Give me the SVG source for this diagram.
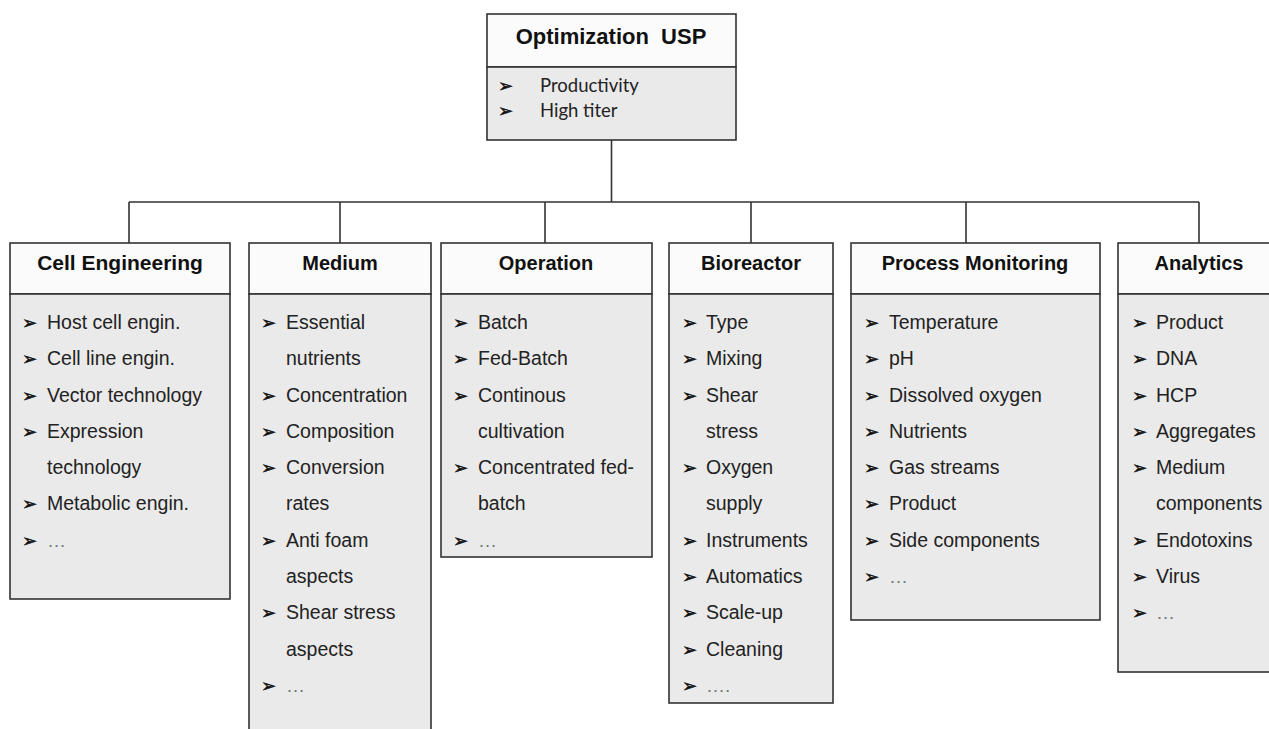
<svg xmlns="http://www.w3.org/2000/svg" width="1269" height="729" viewBox="0 0 1269 729">
<style>
.hd{fill:#fbfbfb;stroke:#333;stroke-width:1.6}
.bd{fill:#eaeaea;stroke:#333;stroke-width:1.6}
.ttl{font-family:"Liberation Sans",Arial,sans-serif;font-weight:bold;font-size:20px;fill:#111;text-anchor:middle}
.it{font-family:"Liberation Sans",Arial,sans-serif;font-size:19.5px;fill:#222}
.bl{font-family:"DejaVu Sans",sans-serif;font-size:18px;fill:#111;stroke:#111;stroke-width:0.5}
.dots{font-family:"Liberation Sans",Arial,sans-serif;font-size:19px;fill:#777}
.cal{font-family:Lato,"Open Sans",sans-serif;font-size:18.5px;fill:#222}
.cn{fill:none;stroke:#333;stroke-width:1.6}
</style>
<g id="connectors">
<path class="cn" d="M611.5 140 V202 M129 202 H1199 M129 202 V243 M340 202 V243 M545 202 V243 M751 202 V243 M966 202 V243 M1199 202 V243"/>
</g>
<g id="root">
<rect class="hd" x="487" y="14" width="249" height="53"/>
<rect class="bd" x="487" y="67" width="249" height="73"/>
<text class="ttl" x="611" y="44" style="font-size:22px" xml:space="preserve">Optimization  USP</text>
<text class="bl" x="498" y="92">➢</text><text class="cal" x="540" y="92">Productivity</text>
<text class="bl" x="498" y="117">➢</text><text class="cal" x="540" y="117">High titer</text>
</g>
<g id="cell-engineering">
<rect class="hd" x="10" y="243" width="220" height="51"/>
<rect class="bd" x="10" y="294" width="220" height="305"/>
<text class="ttl" x="120" y="270" style="font-size:21px">Cell Engineering</text>
<text class="bl" x="22" y="329">➢</text><text class="it" x="47" y="329">Host cell engin.</text>
<text class="bl" x="22" y="365">➢</text><text class="it" x="47" y="365">Cell line engin.</text>
<text class="bl" x="22" y="402">➢</text><text class="it" x="47" y="402">Vector technology</text>
<text class="bl" x="22" y="438">➢</text><text class="it" x="47" y="438">Expression</text>
<text class="it" x="47" y="474">technology</text>
<text class="bl" x="22" y="510">➢</text><text class="it" x="47" y="510">Metabolic  engin.</text>
<text class="bl" x="22" y="547">➢</text><text class="dots" x="47" y="547">…</text>
</g>
<g id="medium">
<rect class="hd" x="249" y="243" width="182" height="51"/>
<rect class="bd" x="249" y="294" width="182" height="450"/>
<text class="ttl" x="340" y="270">Medium</text>
<text class="bl" x="261" y="329">➢</text><text class="it" x="286" y="329">Essential</text>
<text class="it" x="286" y="365">nutrients</text>
<text class="bl" x="261" y="402">➢</text><text class="it" x="286" y="402">Concentration</text>
<text class="bl" x="261" y="438">➢</text><text class="it" x="286" y="438">Composition</text>
<text class="bl" x="261" y="474">➢</text><text class="it" x="286" y="474">Conversion</text>
<text class="it" x="286" y="510">rates</text>
<text class="bl" x="261" y="547">➢</text><text class="it" x="286" y="547">Anti foam</text>
<text class="it" x="286" y="583">aspects</text>
<text class="bl" x="261" y="619">➢</text><text class="it" x="286" y="619">Shear stress</text>
<text class="it" x="286" y="656">aspects</text>
<text class="bl" x="261" y="692">➢</text><text class="dots" x="286" y="692">…</text>
</g>
<g id="operation">
<rect class="hd" x="441" y="243" width="211" height="51"/>
<rect class="bd" x="441" y="294" width="211" height="263"/>
<text class="ttl" x="546" y="270">Operation</text>
<text class="bl" x="453" y="329">➢</text><text class="it" x="478" y="329">Batch</text>
<text class="bl" x="453" y="365">➢</text><text class="it" x="478" y="365">Fed-Batch</text>
<text class="bl" x="453" y="402">➢</text><text class="it" x="478" y="402">Continous</text>
<text class="it" x="478" y="438">cultivation</text>
<text class="bl" x="453" y="474">➢</text><text class="it" x="478" y="474">Concentrated fed-</text>
<text class="it" x="478" y="510">batch</text>
<text class="bl" x="453" y="547">➢</text><text class="dots" x="478" y="547">…</text>
</g>
<g id="bioreactor">
<rect class="hd" x="669" y="243" width="164" height="51"/>
<rect class="bd" x="669" y="294" width="164" height="409"/>
<text class="ttl" x="751" y="270">Bioreactor</text>
<text class="bl" x="682" y="329">➢</text><text class="it" x="706" y="329">Type</text>
<text class="bl" x="682" y="365">➢</text><text class="it" x="706" y="365">Mixing</text>
<text class="bl" x="682" y="402">➢</text><text class="it" x="706" y="402">Shear</text>
<text class="it" x="706" y="438">stress</text>
<text class="bl" x="682" y="474">➢</text><text class="it" x="706" y="474">Oxygen</text>
<text class="it" x="706" y="510">supply</text>
<text class="bl" x="682" y="547">➢</text><text class="it" x="706" y="547">Instruments</text>
<text class="bl" x="682" y="583">➢</text><text class="it" x="706" y="583">Automatics</text>
<text class="bl" x="682" y="619">➢</text><text class="it" x="706" y="619">Scale-up</text>
<text class="bl" x="682" y="656">➢</text><text class="it" x="706" y="656">Cleaning</text>
<text class="bl" x="682" y="692">➢</text><text class="dots" x="706" y="692">….</text>
</g>
<g id="process-monitoring">
<rect class="hd" x="851" y="243" width="249" height="51"/>
<rect class="bd" x="851" y="294" width="249" height="326"/>
<text class="ttl" x="975" y="270">Process Monitoring</text>
<text class="bl" x="864" y="329">➢</text><text class="it" x="889" y="329">Temperature</text>
<text class="bl" x="864" y="365">➢</text><text class="it" x="889" y="365">pH</text>
<text class="bl" x="864" y="402">➢</text><text class="it" x="889" y="402">Dissolved oxygen</text>
<text class="bl" x="864" y="438">➢</text><text class="it" x="889" y="438">Nutrients</text>
<text class="bl" x="864" y="474">➢</text><text class="it" x="889" y="474">Gas streams</text>
<text class="bl" x="864" y="510">➢</text><text class="it" x="889" y="510">Product</text>
<text class="bl" x="864" y="547">➢</text><text class="it" x="889" y="547">Side components</text>
<text class="bl" x="864" y="583">➢</text><text class="dots" x="889" y="583">…</text>
</g>
<g id="analytics">
<rect class="hd" x="1118" y="243" width="165" height="51"/>
<rect class="bd" x="1118" y="294" width="165" height="378"/>
<text class="ttl" x="1199" y="270">Analytics</text>
<text class="bl" x="1132" y="329">➢</text><text class="it" x="1156" y="329">Product</text>
<text class="bl" x="1132" y="365">➢</text><text class="it" x="1156" y="365">DNA</text>
<text class="bl" x="1132" y="402">➢</text><text class="it" x="1156" y="402">HCP</text>
<text class="bl" x="1132" y="438">➢</text><text class="it" x="1156" y="438">Aggregates</text>
<text class="bl" x="1132" y="474">➢</text><text class="it" x="1156" y="474">Medium</text>
<text class="it" x="1156" y="510">components</text>
<text class="bl" x="1132" y="547">➢</text><text class="it" x="1156" y="547">Endotoxins</text>
<text class="bl" x="1132" y="583">➢</text><text class="it" x="1156" y="583">Virus</text>
<text class="bl" x="1132" y="619">➢</text><text class="dots" x="1156" y="619">…</text>
</g>
</svg>
